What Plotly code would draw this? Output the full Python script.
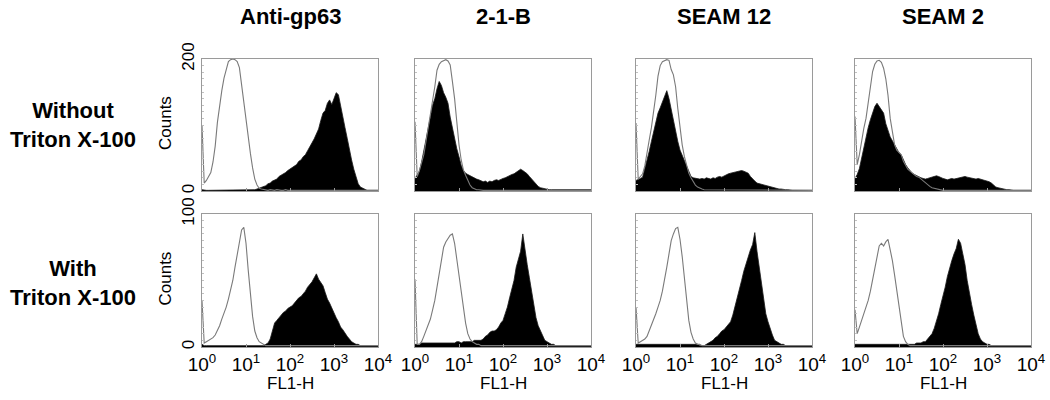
import plotly.graph_objects as go

# ---------------- data ----------------
log_bins = [0.00, 0.05, 0.10, 0.15, 0.20, 0.25, 0.30, 0.35, 0.40, 0.45,
            0.50, 0.55, 0.60, 0.65, 0.70, 0.75, 0.80, 0.85, 0.90, 0.95,
            1.00, 1.05, 1.10, 1.15, 1.20, 1.25, 1.30, 1.35, 1.40, 1.45,
            1.50, 1.55, 1.60, 1.65, 1.70, 1.75, 1.80, 1.85, 1.90, 1.95,
            2.00, 2.05, 2.10, 2.15, 2.20, 2.25, 2.30, 2.35, 2.40, 2.45,
            2.50, 2.55, 2.60, 2.65, 2.70, 2.75, 2.80, 2.85, 2.90, 2.95,
            3.00, 3.05, 3.10, 3.15, 3.20, 3.25, 3.30, 3.35, 3.40, 3.45,
            3.50, 3.55, 3.60, 3.65, 3.70, 3.75, 3.80, 3.85, 3.90, 3.95,
            4.00]

antibodies = ["Anti-gp63", "2-1-B", "SEAM 12", "SEAM 2"]
conditions = ["Without<br>Triton X-100", "With<br>Triton X-100"]
x_tick_values = [1, 10, 100, 1000, 10000]
x_tick_text = ["10<sup>0</sup>", "10<sup>1</sup>", "10<sup>2</sup>", "10<sup>3</sup>", "10<sup>4</sup>"]
y_max_without = 200
y_max_with = 100

# Without Triton X-100: control (open) and stained (filled) histograms
ctrl_antigp63_without = [100, 12, 16, 21, 28, 44, 68, 104, 130, 152,
                         171, 185, 196, 199, 200, 199, 196, 187, 160, 131,
                         106, 81, 57, 35, 18, 9, 4, 3, 2, 2,
                         1, 2, 1, 1, 2, 1, 1, 1, 2, 1,
                         1, 1, 2, 1, 1, 1, 1, 2, 1, 1,
                         1, 1, 1, 1, 2, 1, 1, 1, 1, 1,
                         1, 1, 1, 1, 1, 1, 2, 1, 1, 1,
                         1, 1, 1, 1, 1, 1, 1, 1, 1, 1,
                         1]
stain_antigp63_without = [2, 1, 1, 1, 1, 1, 1, 1, 1, 1,
                          1, 1, 1, 1, 1, 1, 1, 1, 1, 1,
                          1, 1, 1, 2, 2, 3, 4, 5, 6, 8,
                          11, 12, 15, 17, 18, 22, 24, 25, 28, 31,
                          33, 35, 38, 40, 45, 47, 52, 55, 61, 66,
                          73, 79, 88, 94, 107, 118, 122, 133, 138, 131,
                          140, 149, 146, 131, 113, 96, 80, 62, 47, 33,
                          20, 11, 6, 4, 2, 1, 1, 1, 1, 1,
                          1]
ctrl_21b_without = [105, 22, 31, 42, 55, 75, 95, 115, 135, 158,
                    183, 192, 196, 198, 199, 197, 191, 166, 140, 105,
                    70, 47, 32, 24, 16, 9, 5, 3, 2, 2,
                    1, 1, 1, 1, 1, 1, 1, 1, 1, 1,
                    1, 1, 1, 1, 1, 1, 1, 1, 1, 1,
                    1, 1, 1, 1, 1, 1, 1, 1, 1, 1,
                    1, 1, 1, 1, 1, 1, 1, 1, 1, 1,
                    1, 1, 1, 1, 1, 1, 1, 1, 1, 1,
                    1]
stain_21b_without = [19, 24, 30, 44, 60, 78, 95, 112, 130, 140,
                     155, 166, 160, 149, 142, 133, 112, 94, 79, 64,
                     52, 39, 31, 27, 25, 23, 21, 20, 18, 17,
                     15, 14, 15, 13, 15, 14, 16, 17, 16, 18,
                     19, 20, 22, 24, 25, 26, 28, 30, 33, 31,
                     29, 26, 22, 18, 15, 11, 7, 5, 4, 3,
                     3, 2, 2, 2, 2, 1, 1, 1, 1, 1,
                     1, 1, 1, 1, 1, 1, 1, 1, 1, 1,
                     2]
ctrl_seam12_without = [103, 18, 22, 26, 38, 55, 77, 96, 118, 145,
                       174, 190, 196, 198, 199, 198, 184, 176, 158, 125,
                       94, 70, 52, 38, 27, 20, 14, 9, 6, 4,
                       3, 2, 2, 1, 1, 1, 1, 1, 1, 1,
                       1, 1, 1, 1, 1, 1, 1, 1, 1, 1,
                       1, 1, 1, 1, 1, 1, 1, 1, 1, 1,
                       1, 1, 1, 1, 1, 1, 1, 1, 1, 1,
                       1, 1, 1, 1, 1, 1, 1, 1, 1, 1,
                       1]
stain_seam12_without = [16, 17, 19, 21, 33, 47, 60, 75, 88, 104,
                        118, 126, 135, 145, 152, 140, 124, 104, 90, 75,
                        62, 54, 44, 36, 29, 22, 20, 19, 19, 18,
                        19, 18, 20, 19, 18, 20, 19, 21, 22, 21,
                        23, 24, 26, 27, 28, 29, 30, 31, 31, 30,
                        29, 27, 22, 18, 15, 12, 11, 10, 9, 8,
                        7, 6, 5, 4, 4, 3, 3, 2, 2, 2,
                        1, 1, 1, 1, 1, 1, 1, 1, 1, 1,
                        1]
ctrl_seam2_without = [113, 40, 55, 76, 95, 110, 136, 163, 181, 192,
                      197, 198, 195, 186, 170, 145, 110, 90, 70, 62,
                      58, 55, 45, 38, 33, 30, 27, 24, 22, 21,
                      18, 15, 12, 9, 7, 5, 4, 3, 2, 2,
                      1, 1, 1, 1, 1, 1, 1, 1, 1, 1,
                      1, 1, 1, 1, 1, 1, 1, 1, 1, 1,
                      1, 1, 1, 1, 1, 1, 1, 1, 1, 1,
                      1, 1, 1, 1, 1, 1, 1, 1, 1, 1,
                      1]
stain_seam2_without = [19, 25, 34, 50, 68, 80, 96, 108, 120, 128,
                       133, 128, 124, 118, 102, 92, 82, 76, 70, 62,
                       58, 55, 46, 40, 35, 31, 27, 25, 23, 21,
                       20, 19, 18, 19, 20, 21, 22, 23, 22, 20,
                       19, 18, 17, 18, 19, 18, 19, 20, 21, 22,
                       22, 21, 20, 19, 19, 18, 19, 18, 17, 17,
                       15, 14, 12, 9, 6, 5, 4, 3, 3, 2,
                       2, 1, 1, 1, 1, 1, 1, 1, 1, 1,
                       1]

# With Triton X-100
ctrl_antigp63_with = [35, 3, 4, 5, 6, 7, 9, 12, 16, 21,
                      25, 30, 36, 43, 50, 60, 70, 79, 88, 90,
                      78, 58, 40, 23, 12, 7, 4, 3, 2, 1,
                      1, 1, 1, 1, 1, 1, 1, 1, 1, 1,
                      1, 1, 1, 1, 1, 1, 1, 1, 1, 1,
                      1, 1, 1, 1, 1, 1, 1, 1, 1, 1,
                      1, 1, 1, 1, 1, 1, 1, 1, 1, 1,
                      1, 1, 1, 1, 1, 1, 1, 1, 1, 1,
                      1]
stain_antigp63_with = [2, 1, 1, 1, 1, 1, 1, 1, 1, 1,
                       1, 1, 1, 1, 1, 1, 1, 1, 1, 1,
                       1, 1, 1, 1, 1, 1, 1, 1, 1, 2,
                       3, 6, 13, 18, 20, 22, 24, 26, 27, 29,
                       30, 31, 33, 35, 37, 38, 40, 42, 45, 47,
                       49, 52, 55, 51, 48, 46, 41, 36, 33, 29,
                       26, 22, 19, 15, 13, 10, 8, 6, 4, 3,
                       2, 2, 1, 1, 1, 1, 1, 1, 1, 1,
                       1]
ctrl_21b_with = [51, 2, 2, 4, 8, 12, 16, 21, 28, 35,
                 45, 56, 66, 75, 79, 82, 84, 85, 78, 66,
                 53, 40, 29, 18, 10, 6, 4, 3, 2, 2,
                 1, 1, 1, 1, 1, 1, 1, 1, 1, 1,
                 1, 1, 1, 1, 1, 1, 1, 1, 1, 1,
                 1, 1, 1, 1, 1, 1, 1, 1, 1, 1,
                 1, 1, 1, 1, 1, 1, 1, 1, 1, 1,
                 1, 1, 1, 1, 1, 1, 1, 1, 1, 1,
                 1]
stain_21b_with = [2, 2, 2, 3, 3, 3, 3, 3, 3, 3,
                  3, 3, 3, 3, 3, 3, 3, 3, 3, 4,
                  4, 3, 4, 4, 4, 4, 4, 5, 5, 5,
                  5, 6, 8, 9, 11, 12, 12, 13, 15, 18,
                  20, 25, 30, 37, 43, 50, 60, 66, 72, 85,
                  72, 62, 52, 42, 30, 22, 16, 12, 8, 5,
                  4, 3, 2, 2, 1, 1, 1, 1, 1, 1,
                  1, 1, 1, 1, 1, 1, 1, 1, 1, 1,
                  1]
ctrl_seam12_with = [30, 3, 4, 5, 6, 8, 12, 17, 21, 25,
                    30, 35, 42, 50, 60, 70, 80, 85, 89, 90,
                    81, 68, 52, 33, 20, 11, 6, 3, 2, 2,
                    1, 1, 1, 1, 1, 1, 1, 1, 1, 1,
                    1, 1, 1, 1, 1, 1, 1, 1, 1, 1,
                    1, 1, 1, 1, 1, 1, 1, 1, 1, 1,
                    1, 1, 1, 1, 1, 1, 1, 1, 1, 1,
                    1, 1, 1, 1, 1, 1, 1, 1, 1, 1,
                    1]
stain_seam12_with = [2, 2, 2, 2, 2, 2, 2, 2, 2, 2,
                     2, 2, 2, 2, 2, 2, 2, 2, 2, 2,
                     2, 2, 2, 2, 2, 2, 2, 2, 2, 1,
                     1, 1, 2, 3, 4, 5, 7, 8, 10, 12,
                     13, 15, 17, 19, 24, 30, 37, 44, 50, 57,
                     63, 68, 73, 77, 86, 72, 60, 46, 35, 25,
                     19, 13, 9, 5, 4, 3, 2, 2, 1, 1,
                     1, 1, 1, 1, 1, 1, 1, 1, 1, 1,
                     1]
ctrl_seam2_with = [28, 10, 15, 20, 24, 29, 35, 42, 50, 58,
                   68, 76, 78, 76, 79, 81, 73, 65, 54, 42,
                   30, 20, 8, 4, 2, 1, 1, 1, 1, 1,
                   1, 1, 1, 1, 1, 1, 1, 1, 1, 1,
                   1, 1, 1, 1, 1, 1, 1, 1, 1, 1,
                   1, 1, 1, 1, 1, 1, 1, 1, 1, 1,
                   1, 1, 1, 1, 1, 1, 1, 1, 1, 1,
                   1, 1, 1, 1, 1, 1, 1, 1, 1, 1,
                   1]
stain_seam2_with = [2, 2, 2, 2, 2, 2, 2, 2, 2, 2,
                    2, 2, 2, 2, 2, 2, 2, 2, 2, 2,
                    2, 2, 2, 2, 2, 2, 2, 2, 3, 3,
                    3, 4, 4, 6, 8, 10, 14, 19, 25, 32,
                    38, 45, 53, 60, 65, 70, 74, 81, 78, 70,
                    62, 50, 40, 32, 24, 16, 10, 6, 4, 3,
                    2, 2, 1, 1, 1, 1, 1, 1, 1, 1,
                    1, 1, 1, 1, 1, 1, 1, 1, 1, 1,
                    1]

panels = [
    [(ctrl_antigp63_without, stain_antigp63_without), (ctrl_21b_without, stain_21b_without),
     (ctrl_seam12_without, stain_seam12_without), (ctrl_seam2_without, stain_seam2_without)],
    [(ctrl_antigp63_with, stain_antigp63_with), (ctrl_21b_with, stain_21b_with),
     (ctrl_seam12_with, stain_seam12_with), (ctrl_seam2_with, stain_seam2_with)],
]

# ---------------- layout geometry (window pixels) ----------------
W, H = 1050, 400
col_px = [(202, 378), (415, 591), (636, 812), (855, 1031)]
row_px = [(59, 191), (214, 347)]


def px_x(p):
    return p / W


def px_y(p):
    return 1 - p / H


FONT = "Liberation Sans, Arial, Helvetica, sans-serif"
fl1 = [10 ** b for b in log_bins]

fig = go.Figure()
layout = dict(
    template="none",
    width=W, height=H, autosize=False,
    margin=dict(l=0, r=0, t=0, b=0, pad=0, autoexpand=False),
    paper_bgcolor="white", plot_bgcolor="white",
    showlegend=False,
    font=dict(family=FONT, color="black"),
)
annotations = []

idx = 0
for r in range(2):
    ymax = y_max_without if r == 0 else y_max_with
    for c in range(4):
        idx += 1
        xa = "x" if idx == 1 else f"x{idx}"
        ya = "y" if idx == 1 else f"y{idx}"
        ctrl, stain = panels[r][c]
        fig.add_trace(go.Scatter(
            x=fl1, y=stain, xaxis=xa, yaxis=ya, mode="lines",
            line=dict(color="#1a1a1a", width=0.8),
            fill="tozeroy", fillcolor="black", hoverinfo="skip"))
        fig.add_trace(go.Scatter(
            x=fl1, y=ctrl, xaxis=xa, yaxis=ya, mode="lines",
            line=dict(color="#7a7a7a", width=1.1), hoverinfo="skip"))

        x0, x1 = col_px[c]
        y0, y1 = row_px[r]
        xkey = "xaxis" if idx == 1 else f"xaxis{idx}"
        ykey = "yaxis" if idx == 1 else f"yaxis{idx}"
        layout[xkey] = dict(
            domain=[px_x(x0), px_x(x1)], anchor=ya, type="log", range=[0, 4],
            automargin=False,
            showgrid=False, zeroline=False, showline=True, mirror=True,
            linecolor="#9a9a9a", linewidth=1,
            ticks="inside", ticklen=3, tickcolor="#9a9a9a",
            tickvals=x_tick_values, ticktext=x_tick_text,
            showticklabels=(r == 1),
            tickfont=dict(size=19, family=FONT, color="black"),
        )
        layout[ykey] = dict(
            domain=[px_y(y1), px_y(y0)], anchor=xa, range=[0, ymax],
            automargin=False,
            showgrid=False, zeroline=False, showline=True, mirror=True,
            linecolor="#9a9a9a", linewidth=1,
            ticks="inside", ticklen=2, tickcolor="#b0b0b0",
            tickvals=[0, ymax], ticktext=["0", str(ymax)],
            minor=dict(ticks="inside", ticklen=2, tickcolor="#c0c0c0", dtick=ymax / 20),
            showticklabels=(c == 0), tickangle=-90,
            tickfont=dict(size=17, family=FONT, color="black"),
        )
        if r == 1:
            annotations.append(dict(
                x=px_x((x0 + x1) / 2), y=px_y(383), xref="paper", yref="paper",
                text="FL1-H", showarrow=False, xanchor="center", yanchor="middle",
                font=dict(size=17, family=FONT, color="black")))
        if c == 0:
            annotations.append(dict(
                x=px_x(165), y=px_y((y0 + y1) / 2 - 2), xref="paper", yref="paper",
                text="Counts", textangle=-90, showarrow=False,
                xanchor="center", yanchor="middle",
                font=dict(size=17, family=FONT, color="black")))

# column titles
for c, name in enumerate(antibodies):
    x0, x1 = col_px[c]
    annotations.append(dict(
        x=px_x((x0 + x1) / 2), y=px_y(17), xref="paper", yref="paper",
        text=f"<b>{name}</b>", showarrow=False, xanchor="center", yanchor="middle",
        font=dict(size=22, family=FONT, color="black")))

# row labels
row_centers = [125, 283]
for r, lab in enumerate(conditions):
    annotations.append(dict(
        x=px_x(73), y=px_y(row_centers[r]), xref="paper", yref="paper",
        text=f"<b>{lab}</b>", showarrow=False, xanchor="center", yanchor="middle",
        align="center",
        font=dict(size=22, family=FONT, color="black")))

layout["annotations"] = annotations
fig.update_layout(**layout)
# remove the default page margin so the 1050x400 figure fills the window exactly
fig.write_html("out.html",
               config={"displayModeBar": False, "staticPlot": True},
               post_script="document.body.style.margin='0';document.body.style.overflow='hidden';")
